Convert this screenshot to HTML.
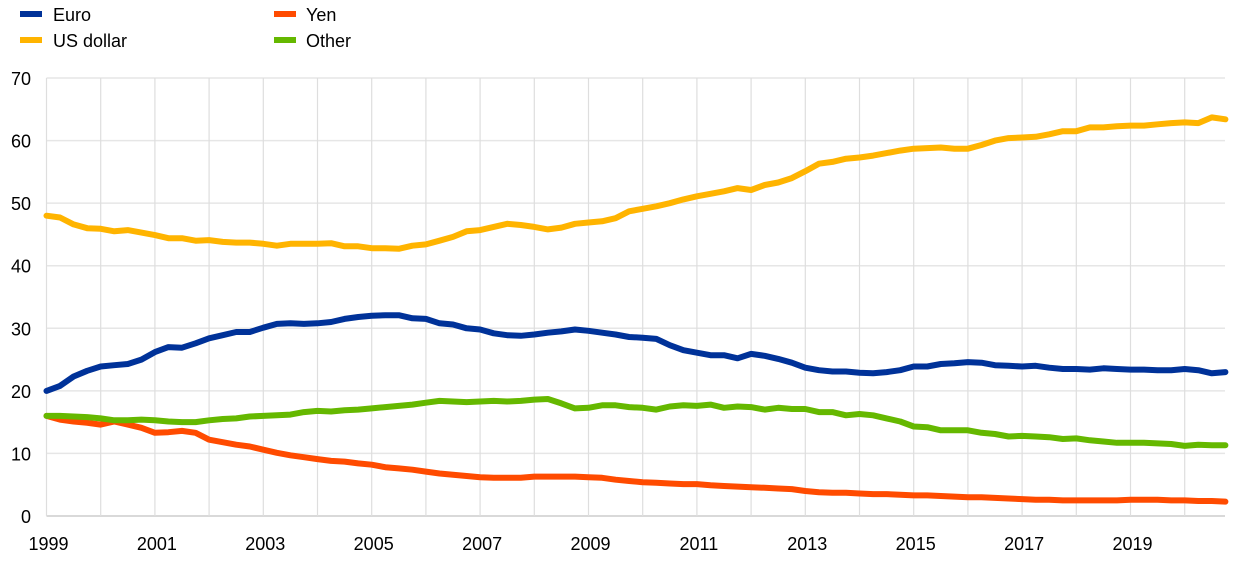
<!DOCTYPE html>
<html><head><meta charset="utf-8"><style>
body{margin:0;background:#fff;}
svg text{font-family:"Liberation Sans",Arial,sans-serif;fill:#000;}
</style></head><body>
<svg id="chart" width="1240" height="578" viewBox="0 0 1240 578" xmlns="http://www.w3.org/2000/svg">
<g id="grid"></g>
<g id="axes"></g>
<g id="series"></g>
<g id="legend">
 <g><rect x="20" y="11" width="22" height="6" fill="#003299"/><text x="53" y="21" font-size="18">Euro</text></g>
 <g><rect x="20" y="37" width="22" height="6" fill="#ffb400"/><text x="53" y="47" font-size="18">US dollar</text></g>
 <g><rect x="274" y="11" width="22" height="6" fill="#ff4b00"/><text x="306" y="21" font-size="18">Yen</text></g>
 <g><rect x="274" y="37" width="22" height="6" fill="#65b800"/><text x="306" y="47" font-size="18">Other</text></g>
</g>
</svg>
<script>
const startYear = 1999;
const yTicks = [0,10,20,30,40,50,60,70];
const xTickLabels = [1999,2001,2003,2005,2007,2009,2011,2013,2015,2017,2019];
const euro = [20.0,20.8,22.3,23.2,23.9,24.1,24.3,25.0,26.2,27.0,26.9,27.6,28.4,28.9,29.4,29.4,30.1,30.7,30.8,30.7,30.8,31.0,31.5,31.8,32.0,32.1,32.1,31.6,31.5,30.8,30.6,30.0,29.8,29.2,28.9,28.8,29.0,29.3,29.5,29.8,29.6,29.3,29.0,28.6,28.5,28.3,27.3,26.5,26.1,25.7,25.7,25.2,25.9,25.6,25.1,24.5,23.7,23.3,23.1,23.1,22.9,22.8,23.0,23.3,23.9,23.9,24.3,24.4,24.6,24.5,24.1,24.0,23.9,24.0,23.7,23.5,23.5,23.4,23.6,23.5,23.4,23.4,23.3,23.3,23.5,23.3,22.8,23.0];
const usd = [48.0,47.7,46.6,46.0,45.9,45.5,45.7,45.3,44.9,44.4,44.4,44.0,44.1,43.8,43.7,43.7,43.5,43.2,43.5,43.5,43.5,43.6,43.1,43.1,42.8,42.8,42.7,43.2,43.4,44.0,44.6,45.5,45.7,46.2,46.7,46.5,46.2,45.8,46.1,46.7,46.9,47.1,47.6,48.7,49.1,49.5,50.0,50.6,51.1,51.5,51.9,52.4,52.1,52.9,53.3,54.0,55.1,56.3,56.6,57.1,57.3,57.6,58.0,58.4,58.7,58.8,58.9,58.7,58.7,59.3,60.0,60.4,60.5,60.6,61.0,61.5,61.5,62.1,62.1,62.3,62.4,62.4,62.6,62.8,62.9,62.8,63.7,63.4];
const yen = [16.0,15.4,15.1,14.9,14.6,15.1,14.6,14.1,13.3,13.4,13.6,13.3,12.2,11.8,11.4,11.1,10.6,10.1,9.7,9.4,9.1,8.8,8.7,8.4,8.2,7.8,7.6,7.4,7.1,6.8,6.6,6.4,6.2,6.1,6.1,6.1,6.3,6.3,6.3,6.3,6.2,6.1,5.8,5.6,5.4,5.3,5.2,5.1,5.1,4.9,4.8,4.7,4.6,4.5,4.4,4.3,4.0,3.8,3.7,3.7,3.6,3.5,3.5,3.4,3.3,3.3,3.2,3.1,3.0,3.0,2.9,2.8,2.7,2.6,2.6,2.5,2.5,2.5,2.5,2.5,2.6,2.6,2.6,2.5,2.5,2.4,2.4,2.3];
const other = [16.0,16.0,15.9,15.8,15.6,15.3,15.3,15.4,15.3,15.1,15.0,15.0,15.3,15.5,15.6,15.9,16.0,16.1,16.2,16.6,16.8,16.7,16.9,17.0,17.2,17.4,17.6,17.8,18.1,18.4,18.3,18.2,18.3,18.4,18.3,18.4,18.6,18.7,18.0,17.2,17.3,17.7,17.7,17.4,17.3,17.0,17.5,17.7,17.6,17.8,17.3,17.5,17.4,17.0,17.3,17.1,17.1,16.6,16.6,16.1,16.3,16.1,15.6,15.1,14.3,14.2,13.7,13.7,13.7,13.3,13.1,12.7,12.8,12.7,12.6,12.3,12.4,12.1,11.9,11.7,11.7,11.7,11.6,11.5,11.2,11.4,11.3,11.3];

const NS='http://www.w3.org/2000/svg';
const X0=46.5, YEARPX=54.2, Y0=516, YPX=6.257, XEND=1225;
function xScale(yr){return X0+(yr-startYear)*YEARPX;}
function yScale(v){return Y0-v*YPX;}
const grid=document.getElementById('grid'), axes=document.getElementById('axes'), ser=document.getElementById('series');
function mk(tag,attrs,parent){const e=document.createElementNS(NS,tag);for(const k in attrs)e.setAttribute(k,attrs[k]);parent.appendChild(e);return e;}
yTicks.forEach(v=>{
  const l=mk('line',{x1:X0,x2:XEND,y1:yScale(v),y2:yScale(v),stroke:v===0?'#d9d9d9':'#e6e6e6','stroke-width':v===0?2:1.5},grid);
  
  
  const t=mk('text',{x:31,y:yScale(v)+7,'text-anchor':'end','font-size':'18'},axes);
  t.textContent=v;
  
  
});
for(let y=startYear;y<=2020;y++){
  const l=mk('line',{x1:xScale(y),x2:xScale(y),y1:yScale(70),y2:Y0,stroke:'#dedede','stroke-width':1.2},grid);
  
  
}
xTickLabels.forEach(y=>{
  const t=mk('text',{x:xScale(y)+2,y:550,'text-anchor':'middle','font-size':'18'},axes);
  t.textContent=y;
  
  
});
function draw(arr,color,name){
  const pts=arr.map((v,i)=>xScale(startYear+i/4).toFixed(1)+','+yScale(v).toFixed(1)).join(' ');
  const p=mk('polyline',{points:pts,fill:'none',stroke:color,'stroke-width':6,'stroke-linejoin':'round','stroke-linecap':'round'},ser);
  
  
}
draw(yen,'#ff4b00','line-yen');
draw(other,'#65b800','line-other');
draw(euro,'#003299','line-euro');
draw(usd,'#ffb400','line-us-dollar');
</script>
</body></html>
